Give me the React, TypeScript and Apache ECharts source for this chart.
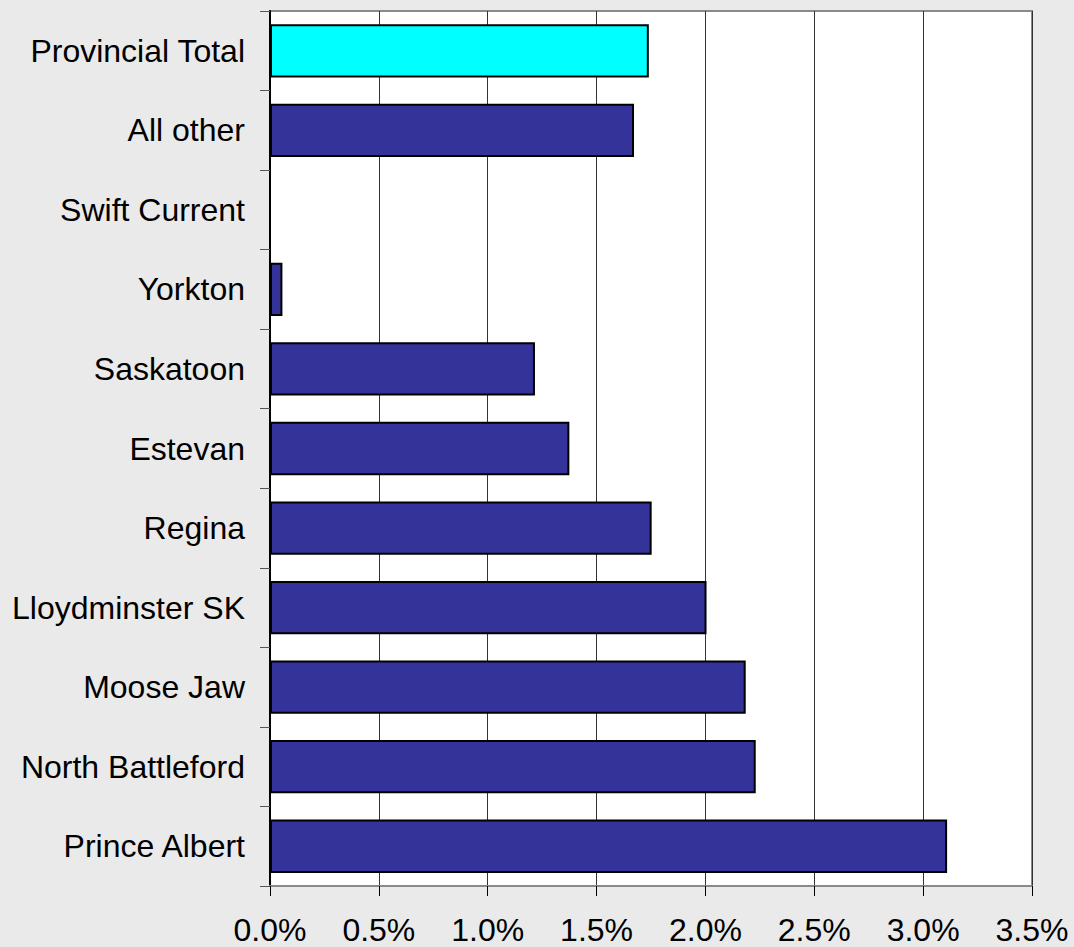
import React, { useEffect, useRef } from "react";
import * as echarts from "echarts";

const categories = [
  "Provincial Total",
  "All other",
  "Swift Current",
  "Yorkton",
  "Saskatoon",
  "Estevan",
  "Regina",
  "Lloydminster SK",
  "Moose Jaw",
  "North Battleford",
  "Prince Albert",
];
const values = [1.74, 1.672, 0, 0.057, 1.217, 1.375, 1.753, 2.005, 2.185, 2.231, 3.11];
const xTicks = { min: 0, max: 3.5, interval: 0.5 };
const highlight = "Provincial Total";

export default function App() {
  const ref = useRef<HTMLDivElement>(null);
  useEffect(() => {
    if (!ref.current) return;
    const chart = echarts.init(ref.current, undefined, { renderer: "svg" });
    const font = "Liberation Sans, Arial, sans-serif";
    chart.setOption({
      animation: false,
      backgroundColor: "#EAEAEA",
      grid: {
        left: 270,
        right: 42,
        top: 11,
        bottom: 61,
        show: true,
        backgroundColor: "#FFFFFF",
        borderColor: "#8A8A8A",
        borderWidth: 2,
      },
      xAxis: {
        type: "value",
        min: xTicks.min,
        max: xTicks.max,
        interval: xTicks.interval,
        axisLine: { show: true, lineStyle: { color: "#8A8A8A", width: 2 } },
        axisTick: { show: true, length: 10, lineStyle: { color: "#000", width: 1 } },
        splitLine: { show: true, lineStyle: { color: "#333", width: 1 } },
        axisLabel: {
          formatter: (v: number) => v.toFixed(1) + "%",
          fontFamily: font,
          fontSize: 32,
          color: "#000",
          margin: 28,
        },
      },
      yAxis: {
        type: "category",
        data: categories,
        inverse: true,
        axisLine: { show: true, lineStyle: { color: "#000", width: 2 } },
        axisTick: { show: true, length: 10, lineStyle: { color: "#555", width: 1 } },
        splitLine: { show: false },
        axisLabel: {
          fontFamily: font,
          fontSize: 32,
          color: "#000",
          margin: 25,
        },
      },
      series: [
        {
          type: "bar",
          barCategoryGap: "33%",
          data: categories.map((c, i) => ({
            value: values[i],
            itemStyle:
              c === highlight
                ? { color: "#00FFFF", borderColor: "#000", borderWidth: 2 }
                : undefined,
          })),
          itemStyle: { color: "#333399", borderColor: "#000", borderWidth: 2 },
        },
      ],
    });
    return () => chart.dispose();
  }, []);
  return (
    <div
      ref={ref}
      style={{ position: "fixed", left: 0, top: 0, width: 1074, height: 947 }}
    />
  );
}
